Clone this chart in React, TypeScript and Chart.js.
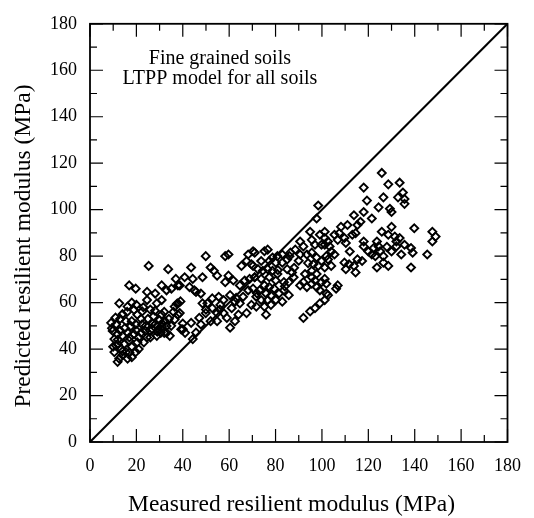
import React, { useEffect, useRef } from "react";
import { Chart, registerables } from "chart.js";

Chart.register(...registerables);

// ---- data (MPa) ----
const measured: number[] = [
  25.3, 33.7, 37, 16.9, 19.7, 30.9, 24.6, 28.1, 33, 35.1, 37.9, 12.6, 16.2, 24.6, 28.8, 30.9, 19, 20.4, 22.5, 27.4,
  30.9, 32.3, 36.5, 37.9, 36.5, 9.1, 11.2, 9.8, 11.9, 10.5, 14, 11.2, 13.4, 10.5, 12.6, 11.9, 15.5, 17.6, 19.7, 16.2,
  19, 16.9, 14.8, 20.4, 15.5, 19.7, 16.2, 22.5, 23.9, 26, 24.6, 23.2, 28.1, 29.5, 28.8, 33, 34.4, 39.3,
  29, 30.5, 31, 27, 32, 30, 37.5, 39, 13, 12, 14, 18, 21, 22, 26, 18, 14,
  13, 15, 17, 18, 20, 21, 22, 24, 25, 26, 27, 29, 31, 33, 35, 12, 14, 17, 18, 10, 9.5, 11, 16, 20, 23, 28, 32, 34, 36, 40, 41,
  49.9, 58.3, 59.7, 68.2, 67.5, 70.3, 65.3, 69.6, 43.6, 40.8, 44.3, 48.5, 38.7, 42.9, 45, 52, 53.4, 54.8, 59.7, 58.3,
  61.8, 64.6, 66.7, 68.8, 71, 68.2, 70.3, 45.7, 47.8, 48.5, 50.6, 52.7, 55.5, 57.6, 60.4, 62.5, 56.2, 52.7, 54.8, 57.6,
  61.1, 59, 54.8, 52, 49.9, 64, 67.5, 69.6, 64.6, 43.6, 40, 47.1, 47.8, 60.4, 62.5, 37.9, 38.7, 45.7, 44.3,
  50, 56, 63, 66, 72, 78, 84, 88, 90, 94, 81, 86,
  98.4, 97.7, 94.9, 99.1, 101.2, 95.6, 97, 99.8, 102.6, 90.6, 92, 88.5, 86.4, 90.6, 93.5, 95.6, 97.7, 99.8, 101.9, 96.3,
  98.4, 101.2, 95.6, 97.7, 95.6, 85, 82.9, 80.8, 78.7, 76.6, 75.2, 71, 73.8, 77.3, 80.1, 82.9, 85, 87.1, 87.8, 85.7,
  83.6, 92.7, 92, 90.6, 93.5, 70.3, 72.4, 74.5, 76.6, 78.7, 80.8, 71, 73.8, 77.3, 80.1, 97, 99.8, 101.2, 101.9, 95.6,
  97.7, 99.1, 75.2, 77.3, 79.4, 73.1, 75.9, 81.5, 83.6, 71.7, 73.8, 76.6, 80.1, 75.2, 78, 75.9, 71.7, 82.9, 85.7, 92,
  94.9, 97, 99.1, 101.2, 102.6,
  125.8, 118, 128.6, 133.5, 132.8, 126.5, 119.4, 124.4, 129.3, 130, 118, 113.8, 121.5, 116.6, 115.3, 108.2, 111, 107.5,
  109.7, 106.8, 105.4, 110.3, 113.1, 114.5, 118, 118, 101.2, 101.2, 103.3, 105.4, 102.6, 104, 125.8, 128.6, 130, 131.4,
  132.1, 133.5, 123.7, 124.4, 122.3, 121.5, 125.1, 126.5, 123, 123.7, 128.6, 126.5, 134.2, 132.1, 109.7, 111.7, 113.8,
  115.3, 110.3, 114.5, 117.3, 106.8, 106.1, 101.9,
  104, 112, 120, 128, 130,
  134.9, 135.6, 135.6, 139.8, 147.6, 149, 147.6, 135.6, 138.4, 139.1, 145.4, 138.4,
];
const predicted: number[] = [
  75.8, 74.4, 70.2, 67.4, 66, 67.4, 64.6, 63.9, 65.3, 66, 67.4, 59.7, 58.3, 61.1, 59.7, 61.1, 56.9, 54.8, 56.2, 54.1,
  54.8, 52, 58.3, 54.8, 52.7, 51.3, 50.6, 47.8, 46.4, 44.3, 45.7, 41.5, 40.1, 38.7, 35.9, 34.5, 52, 49.9, 50.6, 47.1,
  46.4, 43.6, 42.2, 42.9, 38.7, 38.7, 35.9, 50.6, 47.8, 47.8, 45, 42.9, 50.6, 48.5, 45.7, 49.9, 45.7, 48.5,
  50, 47, 49.5, 48.5, 47, 52.5, 59.5, 60.5, 48, 44, 37.5, 41, 45, 53, 57, 60, 55,
  53, 49, 45, 52, 48, 40, 47, 50, 53, 45, 51, 47.5, 51, 47, 50, 42, 39, 38.5, 36.5, 41, 49, 53.5, 56, 59, 58, 56.5, 56, 53, 56, 51, 47,
  80, 80, 80.7, 80.7, 77.9, 82.1, 75.8, 76.5, 75.1, 70.9, 70.2, 70.9, 67.4, 66.7, 65.3, 75.1, 73.7, 71.6, 71.6, 68.8,
  69.5, 67.4, 69.5, 70.2, 70.9, 65.3, 66, 64.6, 63.9, 59.7, 59.7, 61.8, 62.5, 61.1, 63.2, 60.4, 59, 57.6, 55.5, 55.5,
  57.6, 53.4, 52, 52, 55.5, 54.8, 55.5, 59, 59.7, 51.3, 48.5, 53.4, 50.6, 49.2, 52, 59.7, 55.5, 47.1, 44.3,
  57, 57, 62, 62.5, 64, 63, 67, 75, 78, 77, 74, 80,
  101.8, 96.2, 90.5, 89.2, 90.5, 87, 84.9, 84.9, 86.3, 86.3, 84.2, 82.8, 81.5, 80.7, 80.7, 81.5, 79.4, 77.9, 80, 76.5,
  75.8, 75.1, 73.7, 72.3, 70.9, 78.6, 80.7, 80, 79.4, 82.8, 82.1, 81.5, 77.9, 77.9, 77.2, 77.2, 74.4, 73, 70.9, 68.8,
  68.8, 72.3, 68.8, 67.4, 66.7, 75.8, 74.4, 73.7, 74.4, 73.7, 72.3, 70.9, 70.2, 70.9, 69.5, 69.5, 68.8, 70.2, 68.1, 68.1,
  66.7, 65.3, 67.4, 66.7, 66, 65.3, 63.9, 63.9, 65.3, 62.5, 61.1, 61.1, 61.1, 58.3, 59, 54.8, 58.3, 60.4, 63.2, 53.4,
  56.2, 57.6, 59.7, 61.1, 63.2,
  115.8, 109.5, 110.9, 111.6, 105.3, 105.3, 103.9, 101, 100.4, 99, 99, 97.6, 96.2, 94.8, 93.4, 92.6, 93.4, 89.9,
  87.8, 87, 89.2, 85.7, 89.2, 89.9, 86.3, 84.2, 87.8, 84.9, 84.2, 80.7, 78.6, 75.8, 90.5, 89.2, 92.6, 88.4,
  86.3, 87.8, 86.3, 84.2, 83.5, 80.7, 82.1, 80, 80, 75.1, 75.8, 77.2, 80.7, 84.2, 77.2, 76.5, 75.8,
  78.6, 74.4, 73, 77.9, 67.4, 66, 63.9,
  82, 82, 82, 84, 82,
  107.4, 104.6, 102.5, 92, 90.5, 88.4, 86.3, 84.9, 83.5, 81.5, 80.7, 75.1,
];
const equalityLine: number[] = [0, 180];
const axisMin = 0;
const axisMax = 180;
const majorStep = 20;
const minorStep = 10;
const xTitle = "Measured resilient modulus (MPa)";
const yTitle = "Predicted resilient modulus (MPa)";
const noteLines: string[] = ["Fine grained soils", "LTPP model for all soils"];
const noteX = 56;
const noteY: number[] = [162.7, 153.9];

const FONT = '"Liberation Serif", "Times New Roman", serif';

const framePlugin = {
  id: "frameTicks",
  afterDraw(chart: any) {
    const { ctx, chartArea: a, scales } = chart;
    const x = scales.x;
    const y = scales.y;
    ctx.save();
    ctx.strokeStyle = "#000";
    ctx.lineWidth = 1.2;
    ctx.beginPath();
    for (let v = axisMin; v <= axisMax; v += minorStep) {
      const len = v % majorStep === 0 ? 13 : 7;
      const px = x.getPixelForValue(v);
      const py = y.getPixelForValue(v);
      ctx.moveTo(px, a.bottom);
      ctx.lineTo(px, a.bottom - len);
      ctx.moveTo(px, a.top);
      ctx.lineTo(px, a.top + len);
      ctx.moveTo(a.left, py);
      ctx.lineTo(a.left + len, py);
      ctx.moveTo(a.right, py);
      ctx.lineTo(a.right - len, py);
    }
    ctx.stroke();
    ctx.lineWidth = 1.8;
    ctx.strokeRect(a.left, a.top, a.right - a.left, a.bottom - a.top);

    ctx.fillStyle = "#000";
    ctx.textAlign = "center";
    ctx.textBaseline = "alphabetic";
    ctx.font = `20px ${FONT}`;
    noteLines.forEach((t, i) => {
      ctx.fillText(t, x.getPixelForValue(noteX), y.getPixelForValue(noteY[i]));
    });

    ctx.font = `23.5px ${FONT}`;
    ctx.fillText(xTitle, 291.5, 510.5);

    ctx.translate(30, 246);
    ctx.rotate(-Math.PI / 2);
    ctx.fillText(yTitle, 0, 0);
    ctx.restore();
  },
};

export default function App() {
  const canvasRef = useRef<HTMLCanvasElement | null>(null);

  useEffect(() => {
    const canvas = canvasRef.current;
    if (!canvas) return;
    const points = measured.map((m, i) => ({ x: m, y: predicted[i] }));
    const chart = new Chart(canvas, {
      type: "scatter",
      data: {
        datasets: [
          {
            label: "data",
            data: points,
            pointStyle: "rectRot",
            pointRadius: 4,
            pointHoverRadius: 4,
            borderColor: "#000",
            backgroundColor: "rgba(0,0,0,0)",
            borderWidth: 1.9,
            order: 1,
          },
          {
            label: "1:1",
            type: "line",
            data: equalityLine.map((v) => ({ x: v, y: v })),
            borderColor: "#000",
            borderWidth: 2,
            pointRadius: 0,
            fill: false,
            order: 2,
          } as any,
        ],
      },
      options: {
        animation: false,
        responsive: false,
        devicePixelRatio: 1,
        events: [],
        layout: { padding: { left: 0, right: 17, top: 14, bottom: 0 } },
        plugins: {
          legend: { display: false },
          tooltip: { enabled: false },
          title: { display: false },
        },
        scales: {
          x: {
            type: "linear",
            min: axisMin,
            max: axisMax,
            grid: { display: false, drawTicks: false },
            border: { display: false },
            ticks: {
              stepSize: majorStep,
              color: "#000",
              padding: 13,
              maxRotation: 0,
              autoSkip: false,
              font: { family: FONT, size: 18 },
            },
            afterFit(scale: any) {
              scale.height = 76;
            },
          },
          y: {
            type: "linear",
            min: axisMin,
            max: axisMax,
            grid: { display: false, drawTicks: false },
            border: { display: false },
            ticks: {
              stepSize: majorStep,
              color: "#000",
              padding: 13,
              autoSkip: false,
              font: { family: FONT, size: 18 },
            },
            afterFit(scale: any) {
              scale.width = 90;
            },
          },
        },
      },
      plugins: [framePlugin],
    });
    return () => chart.destroy();
  }, []);

  return (
    <div style={{ position: "absolute", left: 0, top: 0, width: 534, height: 518, background: "#fff" }}>
      <canvas ref={canvasRef} width={534} height={518} style={{ display: "block" }} />
    </div>
  );
}
